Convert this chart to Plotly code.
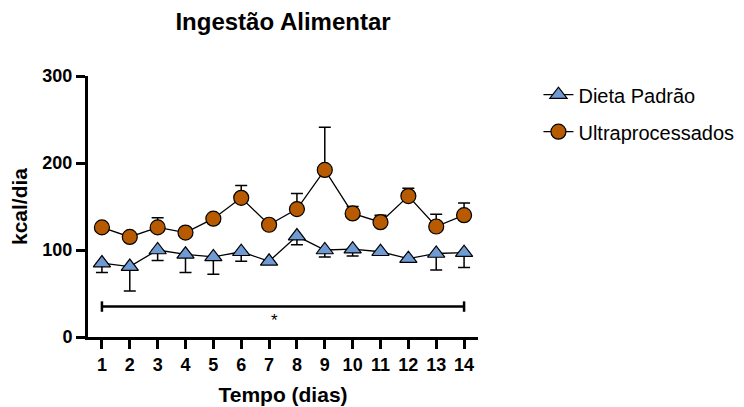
import plotly.graph_objects as go

days = list(range(1, 15))
tick_labels = [str(d) for d in days]

padrao_mean = [85, 81, 100, 95, 92, 98, 87, 116, 100, 101, 98, 90, 96, 97]
padrao_err_down = [11, 28, 12, 21, 20, 11, 0, 10, 8, 8, 0, 0, 19, 17]

ultra_mean = [126, 115, 126, 120, 136, 160, 129, 147, 192, 142, 132, 162, 127, 140]
ultra_err_up = [0, 0, 11, 0, 0, 14, 0, 18, 49, 8, 8, 9, 14, 14]

sig_span = [1, 14]
sig_level = 35
sig_star_x = 7.2
sig_star_y = 19

FONT = "Liberation Sans"
BLUE = "#6F9AD2"
ORANGE = "#B85A00"

# the page body has an 8px margin, so the figure is drawn 8px in from the top-left
W, H = 736, 399

fig = go.Figure()

fig.add_trace(go.Scatter(
    x=days, y=padrao_mean, name="Dieta Padrão", mode="lines+markers", legendgroup="a",
    line=dict(color="black", width=1.3),
    marker=dict(symbol="triangle-up", size=15, color=BLUE, line=dict(color="black", width=1.2)),
    error_y=dict(type="data", symmetric=False, array=[0]*len(days), arrayminus=padrao_err_down,
                 color="black", thickness=1.5, width=6),
))
fig.add_trace(go.Scatter(
    x=days, y=ultra_mean, name="Ultraprocessados", mode="lines+markers", legendgroup="b",
    line=dict(color="black", width=1.3),
    marker=dict(symbol="circle", size=15, color=ORANGE, line=dict(color="black", width=1.2)),
    error_y=dict(type="data", symmetric=False, array=ultra_err_up, arrayminus=[0]*len(days),
                 color="black", thickness=1.5, width=6),
))

# significance bracket
fig.add_trace(go.Scatter(
    x=sig_span, y=[sig_level]*2, mode="lines", showlegend=False, hoverinfo="skip",
    line=dict(color="black", width=2.5),
))
for xv in sig_span:
    fig.add_shape(type="line", xref="x", yref="y", x0=xv, x1=xv,
                  y0=sig_level - 6, y1=sig_level + 6, line=dict(color="black", width=2.5))
fig.add_annotation(x=sig_star_x, y=sig_star_y, text="*", showarrow=False,
                   font=dict(family=FONT, size=17, color="black"))

fig.update_layout(
    width=W, height=H,
    paper_bgcolor="white", plot_bgcolor="white",
    margin=dict(l=80, r=266, t=68, b=70, autoexpand=False),
    title=dict(text="<b>Ingestão Alimentar</b>", x=275 / W, xanchor="center",
               y=1 - 14 / H, yanchor="middle", font=dict(family=FONT, size=24, color="black")),
    font=dict(family=FONT, color="black"),
    legend=dict(x=1.155, y=1.003, xanchor="left", yanchor="top", traceorder="grouped",
                tracegroupgap=8,
                font=dict(family=FONT, size=20, color="black"), bgcolor="rgba(0,0,0,0)"),
    xaxis=dict(range=[0.5, 14.5], tickvals=days, ticktext=[f"<b>{t}</b>" for t in tick_labels],
               showgrid=False, zeroline=False, showline=True, linecolor="black", linewidth=3,
               ticks="outside", ticklen=9, tickwidth=3, tickcolor="black", automargin=False,
               tickfont=dict(family=FONT, size=18, color="black"),
               title=dict(text="<b>Tempo (dias)</b>", font=dict(family=FONT, size=21, color="black"), standoff=14)),
    yaxis=dict(range=[0, 300], tickvals=[0, 100, 200, 300],
               ticktext=["<b>0</b>", "<b>100</b>", "<b>200</b>", "<b>300</b>"],
               showgrid=False, zeroline=False, showline=True, linecolor="black", linewidth=3,
               ticks="outside", ticklen=9, tickwidth=3, tickcolor="black", automargin=False,
               tickfont=dict(family=FONT, size=18, color="black"),
               title=dict(text="<b>kcal/dia</b>", font=dict(family=FONT, size=21, color="black"), standoff=10)),
)

fig.write_html("out.html")
